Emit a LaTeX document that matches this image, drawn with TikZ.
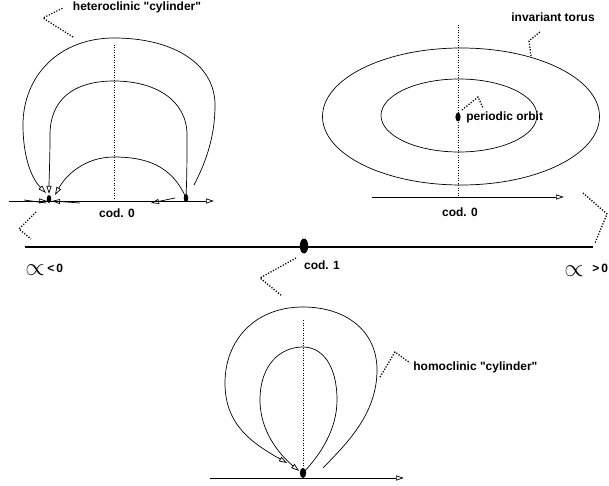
\documentclass[tikz,border=0pt]{standalone}
\usepackage{fontspec}
\setmainfont{Liberation Sans}[Ligatures=TeXOff]
\usetikzlibrary{arrows.meta}
\begin{document}
\begin{tikzpicture}[x=1pt,y=-1pt, line width=0.7pt,
  otip/.style={-{Triangle[open,length=8pt,width=5pt]}},
  lbl/.style={font=\fontsize{12}{14}\selectfont\bfseries, inner sep=0pt},
  alf/.style={font=\fontsize{27}{27}\selectfont, inner sep=0pt},
  lead/.style={line width=1.3pt, dash pattern=on 1.2pt off 1.6pt},
  vdot/.style={dash pattern=on 1pt off 1.5pt, line width=0.6pt},
  dotnode/.style={fill=black}]
\useasboundingbox (0,0) rectangle (609,486);

% ---------- heteroclinic panel ----------
\coordinate (hL) at (49,199);
\coordinate (hR) at (186,198);
\coordinate (hAxL) at (9,201);
\coordinate (hAxR) at (214,201);
\draw[vdot] (114,45) -- (114,200);
\draw[otip] (hAxL) -- (hAxR);
\draw[otip] (12,201) -- (47,201);
\draw (24,200) -- (46,203);
\draw[otip] (80,203) -- (52,201);
\draw[otip] (175,198) -- (151,203);
\fill[dotnode] (hL) ellipse [x radius=2.3, y radius=4];
\fill[dotnode] (hR) ellipse [x radius=2.3, y radius=4];
\draw[otip] (194,185) .. controls (207,160) and (215,135) .. (215,105)
  .. controls (215,65) and (175,38) .. (114,38)
  .. controls (60,38) and (23,75) .. (23,125)
  .. controls (23,160) and (33,180) .. (46,193);
\draw[otip] (hR) .. controls (187,175) and (187,155) .. (187,135)
  .. controls (187,100) and (155,81) .. (114,81)
  .. controls (73,81) and (50,100) .. (50,135)
  .. controls (50,160) and (49,180) .. (49,194);
\draw[otip] (hR) .. controls (172,165) and (145,157) .. (114,157)
  .. controls (85,157) and (66,175) .. (55,195);
\node[lbl] (hcod) at (117,213) {cod. 0};
\node[lbl] (hlab) at (137,7) {heteroclinic "cylinder"};
\draw[lead] (73,37) -- (43,18) -- (63,8);
\draw[lead] (36,212) -- (19,229) -- (31,239);

% ---------- torus panel ----------
\draw (461,116.5) ellipse [x radius=138.5, y radius=68.5];
\draw (459,115.5) ellipse [x radius=78, y radius=36.5];
\draw[vdot] (458,25) -- (458,197);
\fill[dotnode] (458,117) ellipse [x radius=2.6, y radius=4.5];
\coordinate (tA1) at (372,197);
\coordinate (tA2) at (564,197);
\draw[otip] (tA1) -- (tA2);
\node[lbl, anchor=west] (po) at (466,117) {periodic orbit};
\draw[lead] (462,110) -- (478,97) -- (483,108);
\node[lbl] (tcod) at (460,212) {cod. 0};
\node[lbl] (tlab) at (553,17) {invariant torus};
\draw[lead] (531,56) -- (529,41) -- (541,31);
\draw[lead] (583,193) -- (607,214) -- (595,243);

% ---------- parameter line ----------
\coordinate (mL) at (25,247);
\coordinate (mR) at (593,247);
\draw[line width=2pt] (mL) -- (mR);
\fill[dotnode] (304,246) ellipse [x radius=4.2, y radius=7.5];
\node[alf] (a1) at (35,270) {$\propto$};
\node[lbl, anchor=west] (a1t) at (47,268) {<\,0};
\node[alf] (a2) at (574,271) {$\propto$};
\node[lbl, anchor=east] (a2t) at (608.5,268) {>\,0};
\node[lbl] (c1) at (322,265) {cod. 1};
\draw[lead] (296,258) -- (260,278) -- (282,296);

% ---------- homoclinic panel ----------
\coordinate (hoN) at (303,473);
\coordinate (hoA1) at (210,478);
\coordinate (hoA2) at (404,478);
\draw[otip] (hoA1) -- (hoA2);
\draw[vdot] (303,320) -- (hoN);
\draw[otip] (323,468) .. controls (345,445) and (377,415) .. (377,370)
  .. controls (377,330) and (345,307) .. (303,307)
  .. controls (255,307) and (225,340) .. (225,383)
  .. controls (225,425) and (252,443) .. (287,463);
\draw[otip] (hoN) .. controls (320,455) and (337,430) .. (337,400)
  .. controls (337,365) and (322,347) .. (303,347)
  .. controls (280,347) and (260,365) .. (260,400)
  .. controls (260,432) and (280,455) .. (299,471);
\fill[dotnode] (hoN) ellipse [x radius=3.2, y radius=5];
\draw[lead] (380,377) -- (395,352) -- (410,363);
\node[lbl, anchor=west] (holab) at (413,367) {homoclinic "cylinder"};
\end{tikzpicture}
\end{document}
